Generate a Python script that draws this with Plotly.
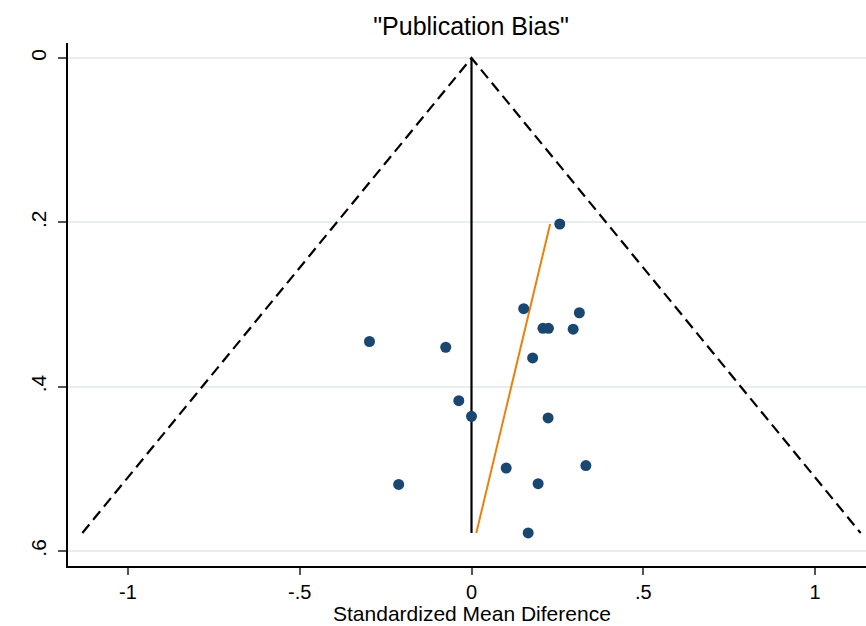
import plotly.graph_objects as go

# Study estimates (standardized mean difference) and standard errors
smd = [0.257, 0.152, 0.314, 0.208, 0.224, 0.296, -0.297, -0.075, 0.178,
       -0.037, 0.000, 0.223, 0.333, 0.101, -0.212, 0.194, 0.165]
se = [0.202, 0.305, 0.310, 0.329, 0.329, 0.330, 0.345, 0.352, 0.365,
      0.417, 0.436, 0.438, 0.496, 0.499, 0.519, 0.518, 0.578]

# Funnel (pseudo 95% limits) around the pooled estimate
pooled = 0.0
se_max = 0.578
funnel_x = [pooled - 1.96 * se_max, pooled, pooled + 1.96 * se_max]
funnel_y = [se_max, 0.0, se_max]

# Pooled-estimate vertical line
pooled_x = [pooled, pooled]
pooled_y = [0.0, se_max]

# Egger-type regression line
egger_x = [0.014, 0.229]
egger_y = [0.578, 0.202]

x_ticks = [-1, -0.5, 0, 0.5, 1]
x_labels = ["-1", "-.5", "0", ".5", "1"]
y_ticks = [0, 0.2, 0.4, 0.6]
y_labels = ["0", ".2", ".4", ".6"]

FONT = "Liberation Sans, Arial, sans-serif"

fig = go.Figure()
fig.add_trace(go.Scatter(x=funnel_x, y=funnel_y, mode="lines",
                         line=dict(color="black", width=2.2, dash="11px,6px"),
                         hoverinfo="skip"))
fig.add_trace(go.Scatter(x=pooled_x, y=pooled_y, mode="lines",
                         line=dict(color="black", width=2.2), hoverinfo="skip"))
fig.add_trace(go.Scatter(x=egger_x, y=egger_y, mode="lines",
                         line=dict(color="#e8820c", width=2), hoverinfo="skip"))
fig.add_trace(go.Scatter(x=smd, y=se, mode="markers",
                         marker=dict(color="#1a476f", size=11, line=dict(width=0))))

fig.update_layout(
    width=866, height=626,
    margin=dict(l=68, r=0, t=43, b=60),
    paper_bgcolor="white", plot_bgcolor="white",
    showlegend=False,
    font=dict(family=FONT, color="black"),
    title=dict(text='"Publication Bias"', x=471 / 866, xanchor="center",
               y=1 - 26 / 626, yanchor="middle", yref="container",
               font=dict(size=25, family=FONT, color="black")),
    annotations=[dict(text="Standardized Mean Diference", x=0, xref="x",
                      xanchor="center", y=0, yref="paper",
                      yanchor="top", yshift=-34, showarrow=False,
                      font=dict(size=21, family=FONT, color="black"))],
)
fig.update_xaxes(
    range=[-1.1747, 1.1485], tickvals=x_ticks, ticktext=x_labels,
    showgrid=False, zeroline=False,
    showline=True, linecolor="black", linewidth=1.5,
    ticks="outside", ticklen=7, tickcolor="#555555", tickwidth=1.5,
    tickfont=dict(size=20, family=FONT, color="black"),
)
fig.update_yaxes(
    range=[0.6182, -0.01825], tickvals=y_ticks, ticktext=y_labels,
    showgrid=True, gridcolor="#e6eef1", gridwidth=2, zeroline=False,
    showline=True, linecolor="black", linewidth=1.5,
    ticks="outside", ticklen=8, tickcolor="#555555", tickwidth=1.5,
    tickangle=-90, ticklabelstandoff=4,
    tickfont=dict(size=21, family=FONT, color="black"),
)

fig.write_html("out.html")
